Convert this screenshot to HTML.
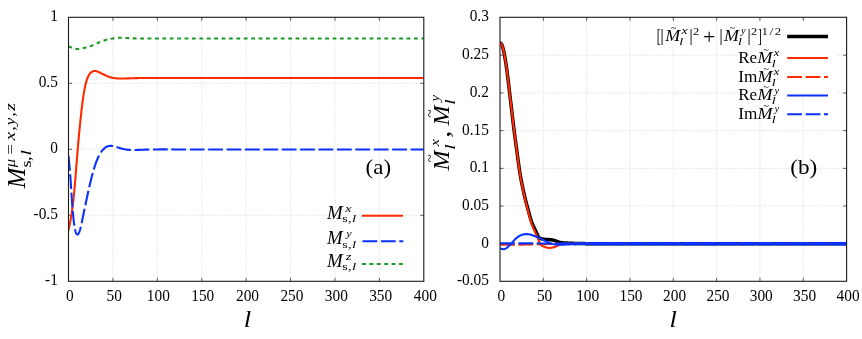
<!DOCTYPE html>
<html><head><meta charset="utf-8"><title>plot</title>
<style>html,body{margin:0;padding:0;background:#fff;}svg{display:block;will-change:transform;}text{font-family:"Liberation Serif",serif;fill:#000;}.it{font-style:italic;}</style></head><body>
<svg width="862" height="339" viewBox="0 0 862 339">
<rect x="0" y="0" width="862" height="339" fill="#ffffff"/>
<line x1="112.91" y1="17.30" x2="112.91" y2="281.30" stroke="#d4d4d4" stroke-width="0.8" stroke-dasharray="1 1.2"/>
<line x1="157.32" y1="17.30" x2="157.32" y2="281.30" stroke="#d4d4d4" stroke-width="0.8" stroke-dasharray="1 1.2"/>
<line x1="201.74" y1="17.30" x2="201.74" y2="281.30" stroke="#d4d4d4" stroke-width="0.8" stroke-dasharray="1 1.2"/>
<line x1="246.15" y1="17.30" x2="246.15" y2="281.30" stroke="#d4d4d4" stroke-width="0.8" stroke-dasharray="1 1.2"/>
<line x1="290.56" y1="17.30" x2="290.56" y2="281.30" stroke="#d4d4d4" stroke-width="0.8" stroke-dasharray="1 1.2"/>
<line x1="334.98" y1="17.30" x2="334.98" y2="281.30" stroke="#d4d4d4" stroke-width="0.8" stroke-dasharray="1 1.2"/>
<line x1="379.39" y1="17.30" x2="379.39" y2="281.30" stroke="#d4d4d4" stroke-width="0.8" stroke-dasharray="1 1.2"/>
<line x1="68.50" y1="215.30" x2="423.80" y2="215.30" stroke="#d4d4d4" stroke-width="0.8" stroke-dasharray="1 1.2"/>
<line x1="68.50" y1="149.30" x2="423.80" y2="149.30" stroke="#d4d4d4" stroke-width="0.8" stroke-dasharray="1 1.2"/>
<line x1="68.50" y1="83.30" x2="423.80" y2="83.30" stroke="#d4d4d4" stroke-width="0.8" stroke-dasharray="1 1.2"/>
<line x1="112.91" y1="281.30" x2="112.91" y2="277.80" stroke="#333" stroke-width="0.8"/>
<line x1="112.91" y1="17.30" x2="112.91" y2="20.80" stroke="#333" stroke-width="0.8"/>
<line x1="157.32" y1="281.30" x2="157.32" y2="277.80" stroke="#333" stroke-width="0.8"/>
<line x1="157.32" y1="17.30" x2="157.32" y2="20.80" stroke="#333" stroke-width="0.8"/>
<line x1="201.74" y1="281.30" x2="201.74" y2="277.80" stroke="#333" stroke-width="0.8"/>
<line x1="201.74" y1="17.30" x2="201.74" y2="20.80" stroke="#333" stroke-width="0.8"/>
<line x1="246.15" y1="281.30" x2="246.15" y2="277.80" stroke="#333" stroke-width="0.8"/>
<line x1="246.15" y1="17.30" x2="246.15" y2="20.80" stroke="#333" stroke-width="0.8"/>
<line x1="290.56" y1="281.30" x2="290.56" y2="277.80" stroke="#333" stroke-width="0.8"/>
<line x1="290.56" y1="17.30" x2="290.56" y2="20.80" stroke="#333" stroke-width="0.8"/>
<line x1="334.98" y1="281.30" x2="334.98" y2="277.80" stroke="#333" stroke-width="0.8"/>
<line x1="334.98" y1="17.30" x2="334.98" y2="20.80" stroke="#333" stroke-width="0.8"/>
<line x1="379.39" y1="281.30" x2="379.39" y2="277.80" stroke="#333" stroke-width="0.8"/>
<line x1="379.39" y1="17.30" x2="379.39" y2="20.80" stroke="#333" stroke-width="0.8"/>
<line x1="68.50" y1="215.30" x2="72.00" y2="215.30" stroke="#333" stroke-width="0.8"/>
<line x1="423.80" y1="215.30" x2="420.30" y2="215.30" stroke="#333" stroke-width="0.8"/>
<line x1="68.50" y1="149.30" x2="72.00" y2="149.30" stroke="#333" stroke-width="0.8"/>
<line x1="423.80" y1="149.30" x2="420.30" y2="149.30" stroke="#333" stroke-width="0.8"/>
<line x1="68.50" y1="83.30" x2="72.00" y2="83.30" stroke="#333" stroke-width="0.8"/>
<line x1="423.80" y1="83.30" x2="420.30" y2="83.30" stroke="#333" stroke-width="0.8"/>
<clipPath id="cl"><rect x="68.50" y="17.30" width="355.30" height="264.00"/></clipPath>
<g clip-path="url(#cl)" fill="none" stroke-linejoin="round">
<path d="M68.50 230.35 L68.77 229.10 L69.03 227.84 L69.30 226.57 L69.57 225.27 L69.84 223.94 L70.10 222.58 L70.37 221.17 L70.64 219.70 L70.90 218.18 L71.17 216.58 L71.44 214.91 L71.71 213.16 L71.97 211.32 L72.24 209.37 L72.51 207.33 L72.77 205.19 L73.04 202.94 L73.31 200.58 L73.58 198.11 L73.84 195.53 L74.11 192.84 L74.38 190.02 L74.64 187.09 L74.91 184.03 L75.18 180.87 L75.45 177.62 L75.71 174.29 L75.98 170.92 L76.25 167.53 L76.51 164.12 L76.78 160.73 L77.05 157.38 L77.32 154.07 L77.58 150.84 L77.85 147.69 L78.12 144.61 L78.38 141.60 L78.65 138.66 L78.92 135.78 L79.19 132.96 L79.45 130.19 L79.72 127.48 L79.99 124.81 L80.25 122.19 L80.52 119.62 L80.79 117.10 L81.06 114.64 L81.32 112.23 L81.59 109.89 L81.86 107.62 L82.12 105.41 L82.39 103.29 L82.66 101.24 L82.93 99.28 L83.19 97.40 L83.46 95.61 L83.73 93.90 L83.99 92.28 L84.26 90.73 L84.53 89.27 L84.80 87.89 L85.06 86.59 L85.33 85.36 L85.60 84.21 L85.86 83.13 L86.13 82.13 L86.40 81.19 L86.67 80.32 L86.93 79.51 L87.20 78.76 L87.47 78.07 L87.73 77.42 L88.00 76.83 L88.27 76.28 L88.54 75.77 L88.80 75.29 L89.07 74.85 L89.34 74.45 L89.60 74.07 L89.87 73.72 L90.14 73.40 L90.41 73.11 L90.67 72.84 L90.94 72.59 L91.21 72.37 L91.47 72.17 L91.74 71.98 L92.01 71.81 L92.28 71.66 L92.54 71.53 L92.81 71.41 L93.08 71.31 L93.34 71.23 L93.61 71.16 L93.88 71.10 L94.15 71.06 L94.41 71.04 L94.68 71.02 L94.95 71.03 L95.21 71.04 L95.48 71.07 L95.75 71.11 L96.02 71.15 L96.28 71.21 L96.55 71.28 L96.82 71.36 L97.08 71.44 L97.35 71.53 L97.62 71.63 L97.89 71.74 L98.15 71.85 L98.42 71.96 L98.69 72.07 L98.95 72.19 L99.22 72.31 L99.49 72.44 L99.76 72.56 L100.02 72.69 L100.29 72.82 L100.56 72.95 L100.82 73.08 L101.09 73.21 L101.36 73.35 L101.63 73.48 L101.89 73.61 L102.16 73.75 L102.43 73.88 L102.69 74.02 L102.96 74.15 L103.23 74.28 L103.50 74.42 L103.76 74.55 L104.03 74.68 L104.30 74.81 L104.56 74.93 L104.83 75.06 L105.10 75.18 L105.37 75.30 L105.63 75.42 L105.90 75.54 L106.17 75.66 L106.43 75.77 L106.70 75.89 L106.97 76.00 L107.24 76.11 L107.50 76.21 L107.77 76.32 L108.04 76.42 L108.30 76.52 L108.57 76.62 L108.84 76.72 L109.11 76.81 L109.37 76.90 L109.64 76.99 L109.91 77.08 L110.17 77.16 L110.44 77.24 L110.71 77.32 L110.98 77.40 L111.24 77.47 L111.51 77.54 L111.78 77.61 L112.04 77.68 L112.31 77.74 L112.58 77.80 L112.85 77.86 L113.11 77.91 L113.38 77.96 L113.65 78.01 L113.91 78.06 L114.18 78.10 L114.45 78.14 L114.72 78.18 L114.98 78.22 L115.25 78.25 L115.52 78.29 L115.78 78.32 L116.05 78.34 L116.32 78.37 L116.59 78.39 L116.85 78.42 L117.12 78.44 L117.39 78.46 L117.65 78.47 L117.92 78.49 L118.19 78.50 L118.46 78.51 L118.72 78.52 L118.99 78.53 L119.26 78.54 L119.52 78.55 L119.79 78.55 L120.06 78.56 L120.33 78.56 L120.59 78.57 L120.86 78.57 L121.13 78.57 L121.39 78.57 L121.66 78.56 L121.93 78.56 L122.20 78.56 L122.46 78.56 L122.73 78.55 L123.00 78.55 L123.26 78.54 L123.53 78.53 L123.80 78.53 L124.07 78.52 L124.33 78.51 L124.60 78.50 L124.87 78.50 L125.13 78.49 L125.40 78.48 L125.67 78.47 L125.94 78.46 L126.20 78.45 L126.47 78.44 L126.74 78.43 L127.00 78.42 L127.27 78.41 L127.54 78.40 L127.81 78.39 L128.07 78.38 L128.34 78.37 L128.61 78.36 L128.87 78.35 L129.14 78.34 L129.41 78.33 L129.68 78.33 L129.94 78.32 L130.21 78.31 L130.48 78.30 L130.74 78.29 L131.01 78.28 L131.28 78.27 L131.55 78.26 L131.81 78.25 L132.08 78.25 L132.35 78.24 L132.61 78.23 L132.88 78.22 L133.15 78.21 L133.42 78.20 L133.68 78.20 L133.95 78.19 L134.22 78.18 L134.48 78.17 L134.75 78.16 L135.02 78.15 L135.29 78.15 L135.55 78.14 L135.82 78.13 L136.09 78.12 L136.35 78.12 L136.62 78.11 L136.89 78.10 L137.16 78.09 L137.42 78.09 L137.69 78.08 L137.96 78.07 L138.22 78.07 L138.49 78.06 L138.76 78.05 L139.03 78.05 L139.29 78.04 L139.56 78.03 L139.83 78.03 L140.09 78.02 L140.36 78.02 L140.63 78.01 L140.90 78.00 L141.16 78.00 L141.43 77.99 L141.70 77.99 L141.96 77.98 L142.23 77.98 L142.50 77.98 L142.77 77.97 L143.03 77.97 L143.30 77.96 L143.57 77.96 L143.83 77.96 L144.10 77.95 L144.37 77.95 L144.64 77.95 L144.90 77.94 L145.17 77.94 L145.44 77.94 L145.70 77.94 L145.97 77.94 L146.24 77.93 L146.51 77.93 L146.77 77.93 L147.04 77.93 L147.31 77.93 L147.57 77.93 L147.84 77.93 L148.11 77.93 L148.38 77.93 L148.64 77.93 L148.91 77.93 L149.18 77.93 L149.44 77.93 L149.71 77.93 L149.98 77.93 L150.25 77.93 L150.51 77.93 L150.78 77.93 L151.05 77.93 L151.31 77.93 L151.58 77.93 L151.85 77.93 L152.12 77.93 L152.38 77.93 L152.65 77.93 L152.92 77.93 L153.18 77.94 L153.45 77.94 L153.72 77.94 L153.99 77.94 L154.25 77.94 L154.52 77.94 L154.79 77.94 L155.05 77.94 L155.32 77.95 L155.59 77.95 L155.86 77.95 L156.12 77.95 L156.39 77.95 L156.66 77.95 L156.92 77.95 L157.19 77.95 L157.46 77.95 L157.73 77.96 L157.99 77.96 L158.26 77.96 L158.53 77.96 L158.79 77.96 L159.06 77.96 L159.33 77.96 L159.60 77.96 L159.86 77.96 L160.13 77.96 L160.40 77.96 L160.66 77.96 L160.93 77.96 L161.20 77.96 L161.47 77.96 L161.73 77.97 L162.00 77.97 L162.27 77.97 L162.53 77.97 L162.80 77.97 L163.07 77.97 L163.34 77.97 L163.60 77.97 L163.87 77.97 L164.14 77.97 L164.40 77.97 L164.67 77.97 L164.94 77.97 L165.21 77.97 L165.47 77.97 L165.74 77.97 L166.01 77.97 L166.27 77.97 L166.54 77.97 L166.81 77.97 L167.08 77.97 L167.34 77.97 L167.61 77.97 L167.88 77.97 L168.14 77.97 L168.41 77.96 L168.68 77.96 L168.95 77.96 L169.21 77.96 L169.48 77.96 L169.75 77.96 L170.01 77.96 L170.28 77.96 L170.55 77.96 L170.82 77.96 L171.08 77.96 L171.35 77.96 L171.62 77.96 L171.88 77.96 L172.15 77.96 L172.42 77.96 L172.69 77.96 L172.95 77.96 L173.22 77.96 L173.49 77.96 L173.75 77.96 L174.02 77.96 L174.29 77.96 L174.56 77.96 L174.82 77.95 L175.09 77.95 L423.80 77.95" stroke="#ff2a00" stroke-width="2.1"/>
<path d="M68.50 155.90 L68.77 158.57 L69.03 161.28 L69.30 164.08 L69.57 167.01 L69.84 170.11 L70.10 173.42 L70.37 176.98 L70.64 180.79 L70.90 184.78 L71.17 188.87 L71.44 192.98 L71.71 197.04 L71.97 200.96 L72.24 204.68 L72.51 208.15 L72.77 211.40 L73.04 214.41 L73.31 217.18 L73.58 219.71 L73.84 222.01 L74.11 224.07 L74.38 225.91 L74.64 227.53 L74.91 228.96 L75.18 230.19 L75.45 231.25 L75.71 232.14 L75.98 232.87 L76.25 233.46 L76.51 233.90 L76.78 234.22 L77.05 234.41 L77.32 234.49 L77.58 234.46 L77.85 234.34 L78.12 234.12 L78.38 233.80 L78.65 233.40 L78.92 232.90 L79.19 232.31 L79.45 231.64 L79.72 230.87 L79.99 230.02 L80.25 229.09 L80.52 228.07 L80.79 226.99 L81.06 225.84 L81.32 224.65 L81.59 223.41 L81.86 222.13 L82.12 220.84 L82.39 219.52 L82.66 218.20 L82.93 216.89 L83.19 215.57 L83.46 214.26 L83.73 212.96 L83.99 211.66 L84.26 210.36 L84.53 209.07 L84.80 207.78 L85.06 206.50 L85.33 205.22 L85.60 203.94 L85.86 202.67 L86.13 201.41 L86.40 200.15 L86.67 198.90 L86.93 197.65 L87.20 196.41 L87.47 195.17 L87.73 193.94 L88.00 192.72 L88.27 191.51 L88.54 190.31 L88.80 189.12 L89.07 187.94 L89.34 186.77 L89.60 185.61 L89.87 184.47 L90.14 183.34 L90.41 182.22 L90.67 181.12 L90.94 180.03 L91.21 178.96 L91.47 177.90 L91.74 176.86 L92.01 175.83 L92.28 174.83 L92.54 173.84 L92.81 172.86 L93.08 171.91 L93.34 170.97 L93.61 170.05 L93.88 169.15 L94.15 168.27 L94.41 167.41 L94.68 166.57 L94.95 165.74 L95.21 164.94 L95.48 164.16 L95.75 163.40 L96.02 162.66 L96.28 161.94 L96.55 161.24 L96.82 160.56 L97.08 159.89 L97.35 159.25 L97.62 158.63 L97.89 158.02 L98.15 157.43 L98.42 156.86 L98.69 156.31 L98.95 155.78 L99.22 155.26 L99.49 154.76 L99.76 154.28 L100.02 153.82 L100.29 153.37 L100.56 152.93 L100.82 152.52 L101.09 152.11 L101.36 151.73 L101.63 151.36 L101.89 151.00 L102.16 150.66 L102.43 150.33 L102.69 150.02 L102.96 149.71 L103.23 149.43 L103.50 149.15 L103.76 148.89 L104.03 148.64 L104.30 148.40 L104.56 148.18 L104.83 147.96 L105.10 147.76 L105.37 147.57 L105.63 147.39 L105.90 147.22 L106.17 147.06 L106.43 146.91 L106.70 146.77 L106.97 146.65 L107.24 146.53 L107.50 146.42 L107.77 146.32 L108.04 146.24 L108.30 146.16 L108.57 146.09 L108.84 146.03 L109.11 145.98 L109.37 145.93 L109.64 145.90 L109.91 145.87 L110.17 145.86 L110.44 145.85 L110.71 145.84 L110.98 145.85 L111.24 145.86 L111.51 145.88 L111.78 145.90 L112.04 145.94 L112.31 145.97 L112.58 146.01 L112.85 146.06 L113.11 146.11 L113.38 146.17 L113.65 146.23 L113.91 146.29 L114.18 146.36 L114.45 146.43 L114.72 146.51 L114.98 146.58 L115.25 146.66 L115.52 146.74 L115.78 146.82 L116.05 146.91 L116.32 146.99 L116.59 147.07 L116.85 147.16 L117.12 147.25 L117.39 147.33 L117.65 147.42 L117.92 147.50 L118.19 147.58 L118.46 147.67 L118.72 147.75 L118.99 147.83 L119.26 147.91 L119.52 147.99 L119.79 148.07 L120.06 148.14 L120.33 148.22 L120.59 148.29 L120.86 148.37 L121.13 148.44 L121.39 148.51 L121.66 148.58 L121.93 148.65 L122.20 148.72 L122.46 148.78 L122.73 148.85 L123.00 148.91 L123.26 148.97 L123.53 149.03 L123.80 149.08 L124.07 149.14 L124.33 149.19 L124.60 149.24 L124.87 149.29 L125.13 149.34 L125.40 149.39 L125.67 149.43 L125.94 149.48 L126.20 149.52 L126.47 149.56 L126.74 149.60 L127.00 149.63 L127.27 149.67 L127.54 149.70 L127.81 149.73 L128.07 149.76 L128.34 149.79 L128.61 149.81 L128.87 149.84 L129.14 149.86 L129.41 149.88 L129.68 149.90 L129.94 149.92 L130.21 149.94 L130.48 149.95 L130.74 149.96 L131.01 149.97 L131.28 149.98 L131.55 149.99 L131.81 150.00 L132.08 150.01 L132.35 150.01 L132.61 150.01 L132.88 150.02 L133.15 150.02 L133.42 150.02 L133.68 150.01 L133.95 150.01 L134.22 150.01 L134.48 150.00 L134.75 150.00 L135.02 149.99 L135.29 149.99 L135.55 149.98 L135.82 149.97 L136.09 149.96 L136.35 149.95 L136.62 149.95 L136.89 149.94 L137.16 149.93 L137.42 149.91 L137.69 149.90 L137.96 149.89 L138.22 149.88 L138.49 149.87 L138.76 149.86 L139.03 149.85 L139.29 149.84 L139.56 149.83 L139.83 149.82 L140.09 149.81 L140.36 149.80 L140.63 149.79 L140.90 149.78 L141.16 149.77 L141.43 149.76 L141.70 149.75 L141.96 149.74 L142.23 149.73 L142.50 149.72 L142.77 149.71 L143.03 149.70 L143.30 149.70 L143.57 149.69 L143.83 149.68 L144.10 149.67 L144.37 149.66 L144.64 149.66 L144.90 149.65 L145.17 149.64 L145.44 149.64 L145.70 149.63 L145.97 149.62 L146.24 149.61 L146.51 149.61 L146.77 149.60 L147.04 149.60 L147.31 149.59 L147.57 149.58 L147.84 149.58 L148.11 149.57 L148.38 149.57 L148.64 149.56 L148.91 149.55 L149.18 149.55 L149.44 149.54 L149.71 149.54 L149.98 149.53 L150.25 149.53 L150.51 149.52 L150.78 149.52 L151.05 149.51 L151.31 149.51 L151.58 149.50 L151.85 149.50 L152.12 149.50 L152.38 149.49 L152.65 149.49 L152.92 149.48 L153.18 149.48 L153.45 149.48 L153.72 149.47 L153.99 149.47 L154.25 149.46 L154.52 149.46 L154.79 149.46 L155.05 149.45 L155.32 149.45 L155.59 149.45 L155.86 149.45 L156.12 149.44 L156.39 149.44 L156.66 149.44 L156.92 149.44 L157.19 149.43 L157.46 149.43 L157.73 149.43 L157.99 149.43 L158.26 149.42 L158.53 149.42 L158.79 149.42 L159.06 149.42 L159.33 149.42 L159.60 149.42 L159.86 149.41 L160.13 149.41 L160.40 149.41 L160.66 149.41 L160.93 149.41 L161.20 149.41 L161.47 149.41 L161.73 149.41 L162.00 149.41 L162.27 149.41 L162.53 149.41 L162.80 149.40 L163.07 149.40 L163.34 149.40 L163.60 149.40 L163.87 149.40 L164.14 149.40 L164.40 149.40 L164.67 149.40 L164.94 149.40 L165.21 149.40 L165.47 149.40 L165.74 149.40 L166.01 149.40 L166.27 149.40 L166.54 149.40 L166.81 149.40 L167.08 149.41 L167.34 149.41 L167.61 149.41 L167.88 149.41 L168.14 149.41 L168.41 149.41 L168.68 149.41 L168.95 149.41 L169.21 149.41 L169.48 149.41 L169.75 149.41 L170.01 149.41 L170.28 149.41 L170.55 149.41 L170.82 149.41 L171.08 149.42 L171.35 149.42 L171.62 149.42 L171.88 149.42 L172.15 149.42 L172.42 149.42 L172.69 149.42 L172.95 149.42 L173.22 149.42 L173.49 149.43 L173.75 149.43 L174.02 149.43 L174.29 149.43 L174.56 149.43 L174.82 149.43 L175.09 149.43 L423.80 149.43" stroke="#0a32ff" stroke-width="2.1" stroke-dasharray="14.8 3.6"/>
<path d="M68.50 46.21 L68.77 46.34 L69.03 46.47 L69.30 46.61 L69.57 46.74 L69.84 46.87 L70.10 47.00 L70.37 47.12 L70.64 47.25 L70.90 47.37 L71.17 47.49 L71.44 47.61 L71.71 47.72 L71.97 47.83 L72.24 47.93 L72.51 48.03 L72.77 48.13 L73.04 48.22 L73.31 48.31 L73.58 48.39 L73.84 48.47 L74.11 48.54 L74.38 48.60 L74.64 48.66 L74.91 48.72 L75.18 48.77 L75.45 48.81 L75.71 48.85 L75.98 48.89 L76.25 48.91 L76.51 48.94 L76.78 48.96 L77.05 48.97 L77.32 48.98 L77.58 48.98 L77.85 48.98 L78.12 48.97 L78.38 48.96 L78.65 48.94 L78.92 48.92 L79.19 48.89 L79.45 48.86 L79.72 48.83 L79.99 48.79 L80.25 48.75 L80.52 48.70 L80.79 48.66 L81.06 48.61 L81.32 48.56 L81.59 48.50 L81.86 48.45 L82.12 48.39 L82.39 48.33 L82.66 48.27 L82.93 48.21 L83.19 48.15 L83.46 48.09 L83.73 48.03 L83.99 47.96 L84.26 47.90 L84.53 47.84 L84.80 47.78 L85.06 47.71 L85.33 47.65 L85.60 47.58 L85.86 47.52 L86.13 47.45 L86.40 47.38 L86.67 47.31 L86.93 47.25 L87.20 47.17 L87.47 47.10 L87.73 47.03 L88.00 46.96 L88.27 46.88 L88.54 46.80 L88.80 46.72 L89.07 46.64 L89.34 46.56 L89.60 46.47 L89.87 46.39 L90.14 46.30 L90.41 46.21 L90.67 46.12 L90.94 46.02 L91.21 45.92 L91.47 45.82 L91.74 45.72 L92.01 45.62 L92.28 45.51 L92.54 45.40 L92.81 45.29 L93.08 45.18 L93.34 45.07 L93.61 44.95 L93.88 44.83 L94.15 44.72 L94.41 44.60 L94.68 44.48 L94.95 44.36 L95.21 44.24 L95.48 44.11 L95.75 43.99 L96.02 43.87 L96.28 43.75 L96.55 43.62 L96.82 43.50 L97.08 43.38 L97.35 43.25 L97.62 43.13 L97.89 43.01 L98.15 42.88 L98.42 42.76 L98.69 42.64 L98.95 42.52 L99.22 42.40 L99.49 42.28 L99.76 42.17 L100.02 42.05 L100.29 41.93 L100.56 41.82 L100.82 41.71 L101.09 41.59 L101.36 41.48 L101.63 41.37 L101.89 41.27 L102.16 41.16 L102.43 41.06 L102.69 40.96 L102.96 40.85 L103.23 40.76 L103.50 40.66 L103.76 40.57 L104.03 40.47 L104.30 40.38 L104.56 40.30 L104.83 40.21 L105.10 40.13 L105.37 40.05 L105.63 39.97 L105.90 39.89 L106.17 39.82 L106.43 39.75 L106.70 39.68 L106.97 39.61 L107.24 39.54 L107.50 39.48 L107.77 39.42 L108.04 39.36 L108.30 39.30 L108.57 39.24 L108.84 39.18 L109.11 39.13 L109.37 39.07 L109.64 39.02 L109.91 38.97 L110.17 38.92 L110.44 38.87 L110.71 38.82 L110.98 38.77 L111.24 38.73 L111.51 38.68 L111.78 38.64 L112.04 38.59 L112.31 38.55 L112.58 38.51 L112.85 38.46 L113.11 38.42 L113.38 38.38 L113.65 38.34 L113.91 38.30 L114.18 38.26 L114.45 38.22 L114.72 38.19 L114.98 38.15 L115.25 38.12 L115.52 38.08 L115.78 38.05 L116.05 38.02 L116.32 37.99 L116.59 37.96 L116.85 37.93 L117.12 37.91 L117.39 37.89 L117.65 37.86 L117.92 37.84 L118.19 37.82 L118.46 37.81 L118.72 37.79 L118.99 37.78 L119.26 37.77 L119.52 37.76 L119.79 37.75 L120.06 37.74 L120.33 37.74 L120.59 37.74 L120.86 37.74 L121.13 37.74 L121.39 37.74 L121.66 37.74 L121.93 37.75 L122.20 37.76 L122.46 37.76 L122.73 37.77 L123.00 37.78 L123.26 37.79 L123.53 37.81 L123.80 37.82 L124.07 37.83 L124.33 37.85 L124.60 37.86 L124.87 37.88 L125.13 37.90 L125.40 37.91 L125.67 37.93 L125.94 37.95 L126.20 37.96 L126.47 37.98 L126.74 38.00 L127.00 38.02 L127.27 38.03 L127.54 38.05 L127.81 38.07 L128.07 38.08 L128.34 38.10 L128.61 38.12 L128.87 38.13 L129.14 38.15 L129.41 38.17 L129.68 38.18 L129.94 38.20 L130.21 38.21 L130.48 38.23 L130.74 38.24 L131.01 38.26 L131.28 38.27 L131.55 38.29 L131.81 38.30 L132.08 38.31 L132.35 38.32 L132.61 38.34 L132.88 38.35 L133.15 38.36 L133.42 38.37 L133.68 38.38 L133.95 38.39 L134.22 38.40 L134.48 38.41 L134.75 38.42 L135.02 38.43 L135.29 38.44 L135.55 38.45 L135.82 38.46 L136.09 38.46 L136.35 38.47 L136.62 38.48 L136.89 38.48 L137.16 38.49 L137.42 38.49 L137.69 38.50 L137.96 38.50 L138.22 38.51 L138.49 38.51 L138.76 38.52 L139.03 38.52 L139.29 38.52 L139.56 38.53 L139.83 38.53 L140.09 38.53 L140.36 38.53 L140.63 38.54 L140.90 38.54 L141.16 38.54 L141.43 38.54 L141.70 38.54 L141.96 38.54 L142.23 38.55 L142.50 38.55 L142.77 38.55 L143.03 38.55 L143.30 38.55 L143.57 38.55 L143.83 38.55 L144.10 38.55 L144.37 38.55 L144.64 38.55 L144.90 38.55 L145.17 38.55 L145.44 38.56 L145.70 38.56 L145.97 38.56 L146.24 38.56 L146.51 38.56 L146.77 38.56 L147.04 38.56 L147.31 38.56 L147.57 38.56 L147.84 38.56 L148.11 38.56 L148.38 38.56 L148.64 38.56 L148.91 38.56 L149.18 38.56 L149.44 38.56 L149.71 38.56 L149.98 38.56 L150.25 38.56 L150.51 38.56 L150.78 38.56 L151.05 38.56 L151.31 38.56 L151.58 38.56 L151.85 38.56 L152.12 38.56 L152.38 38.56 L152.65 38.56 L152.92 38.56 L153.18 38.56 L153.45 38.56 L153.72 38.56 L153.99 38.56 L154.25 38.55 L154.52 38.55 L154.79 38.55 L155.05 38.55 L155.32 38.55 L155.59 38.55 L155.86 38.55 L156.12 38.55 L156.39 38.55 L156.66 38.55 L156.92 38.55 L157.19 38.55 L157.46 38.55 L157.73 38.55 L157.99 38.55 L158.26 38.55 L158.53 38.55 L158.79 38.55 L159.06 38.55 L159.33 38.55 L159.60 38.55 L159.86 38.55 L160.13 38.55 L160.40 38.55 L160.66 38.55 L160.93 38.55 L161.20 38.55 L161.47 38.55 L161.73 38.55 L162.00 38.55 L162.27 38.55 L162.53 38.55 L162.80 38.55 L163.07 38.55 L163.34 38.55 L163.60 38.55 L163.87 38.55 L164.14 38.55 L164.40 38.55 L164.67 38.55 L164.94 38.55 L165.21 38.55 L165.47 38.55 L165.74 38.55 L166.01 38.55 L166.27 38.55 L166.54 38.55 L166.81 38.55 L167.08 38.55 L167.34 38.55 L167.61 38.55 L167.88 38.55 L168.14 38.55 L168.41 38.55 L168.68 38.55 L168.95 38.55 L169.21 38.55 L169.48 38.55 L169.75 38.55 L170.01 38.55 L170.28 38.55 L170.55 38.55 L170.82 38.55 L171.08 38.55 L171.35 38.55 L171.62 38.55 L171.88 38.55 L172.15 38.55 L172.42 38.55 L172.69 38.55 L172.95 38.55 L173.22 38.55 L173.49 38.55 L173.75 38.55 L174.02 38.55 L174.29 38.55 L174.56 38.55 L174.82 38.55 L175.09 38.55 L423.80 38.55" stroke="#169a22" stroke-width="2.1" stroke-dasharray="3.8 3.6"/>
</g>
<rect x="68.50" y="17.30" width="355.30" height="264.00" fill="none" stroke="#1a1a1a" stroke-width="1.1"/>
<text transform="translate(66.06 301.10) scale(0.955 1)" font-size="16.10">0</text>
<text transform="translate(106.47 301.10) scale(0.955 1)" font-size="16.10">50</text>
<text transform="translate(146.81 301.10) scale(0.955 1)" font-size="16.10">100</text>
<text transform="translate(191.22 301.10) scale(0.955 1)" font-size="16.10">150</text>
<text transform="translate(235.97 301.10) scale(0.955 1)" font-size="16.10">200</text>
<text transform="translate(280.39 301.10) scale(0.955 1)" font-size="16.10">250</text>
<text transform="translate(324.77 301.10) scale(0.955 1)" font-size="16.10">300</text>
<text transform="translate(369.18 301.10) scale(0.955 1)" font-size="16.10">350</text>
<text transform="translate(413.81 301.10) scale(0.955 1)" font-size="16.10">400</text>
<text transform="translate(57.90 285.20) scale(0.955 1)" font-size="16.10" text-anchor="end">-1</text>
<text transform="translate(57.90 219.20) scale(0.955 1)" font-size="16.10" text-anchor="end">-0.5</text>
<text transform="translate(57.90 153.20) scale(0.955 1)" font-size="16.10" text-anchor="end">0</text>
<text transform="translate(57.90 87.20) scale(0.955 1)" font-size="16.10" text-anchor="end">0.5</text>
<text transform="translate(57.90 21.20) scale(0.955 1)" font-size="16.10" text-anchor="end">1</text>
<text transform="translate(243.68 326.60) scale(1.200 1)" font-size="22.20" class="it">l</text>
<text transform="translate(365.59 174.40) scale(1.075 1)" font-size="21.40">(a)</text>
<g transform="translate(25.1 188.6) rotate(-90)">
<text transform="translate(0.29 0.00) scale(0.996 1)" font-size="24.70" class="it">M</text>
<text transform="translate(21.15 5.90) scale(1.218 1)" font-size="15.00">s</text>
<text transform="translate(27.71 5.90) scale(1.209 1)" font-size="15.00">,</text>
<text transform="translate(33.04 5.90) scale(1.300 1)" font-size="15.00" class="it">l</text>
<text transform="translate(21.42 -10.60) scale(1.107 1)" font-size="15.00" class="it">μ</text>
<text transform="translate(33.85 -10.60) scale(1.275 1)" font-size="15.00">=</text>
<text transform="translate(48.06 -10.60) scale(1.300 1)" font-size="15.00" class="it">x</text>
<text transform="translate(57.91 -10.60) scale(1.209 1)" font-size="15.00">,</text>
<text transform="translate(63.32 -10.60) scale(1.137 1)" font-size="15.00" class="it">y</text>
<text transform="translate(71.91 -10.60) scale(1.209 1)" font-size="15.00">,</text>
<text transform="translate(77.89 -10.60) scale(1.300 1)" font-size="15.00" class="it">z</text>
</g>
<text transform="translate(327.12 218.75) scale(0.998 1)" font-size="18.90" class="it">M</text>
<text transform="translate(345.37 211.55) scale(1.251 1)" font-size="11.40" class="it">x</text>
<text transform="translate(342.22 222.15) scale(1.237 1)" font-size="11.40">s</text>
<text transform="translate(347.94 222.15) scale(1.296 1)" font-size="11.40">,</text>
<text transform="translate(352.01 222.15) scale(1.300 1)" font-size="11.40" class="it">l</text>
<text transform="translate(327.12 244.20) scale(0.998 1)" font-size="18.90" class="it">M</text>
<text transform="translate(346.21 237.00) scale(1.064 1)" font-size="11.40" class="it">y</text>
<text transform="translate(342.22 247.60) scale(1.237 1)" font-size="11.40">s</text>
<text transform="translate(347.94 247.60) scale(1.296 1)" font-size="11.40">,</text>
<text transform="translate(352.01 247.60) scale(1.300 1)" font-size="11.40" class="it">l</text>
<text transform="translate(327.12 266.90) scale(0.998 1)" font-size="18.90" class="it">M</text>
<text transform="translate(345.70 259.70) scale(1.300 1)" font-size="11.40" class="it">z</text>
<text transform="translate(342.22 270.30) scale(1.237 1)" font-size="11.40">s</text>
<text transform="translate(347.94 270.30) scale(1.296 1)" font-size="11.40">,</text>
<text transform="translate(352.01 270.30) scale(1.300 1)" font-size="11.40" class="it">l</text>
<line x1="362" y1="215.75" x2="403" y2="215.75" stroke="#ff2a00" stroke-width="2.0"/>
<line x1="362.5" y1="241.20" x2="403.3" y2="241.20" stroke="#0a32ff" stroke-width="2.0" stroke-dasharray="14.8 3.6"/>
<line x1="362" y1="263.90" x2="403" y2="263.90" stroke="#169a22" stroke-width="2.0" stroke-dasharray="3.8 3.6"/>
<line x1="543.33" y1="17.30" x2="543.33" y2="281.30" stroke="#d4d4d4" stroke-width="0.8" stroke-dasharray="1 1.2"/>
<line x1="586.65" y1="17.30" x2="586.65" y2="281.30" stroke="#d4d4d4" stroke-width="0.8" stroke-dasharray="1 1.2"/>
<line x1="629.98" y1="17.30" x2="629.98" y2="281.30" stroke="#d4d4d4" stroke-width="0.8" stroke-dasharray="1 1.2"/>
<line x1="673.30" y1="17.30" x2="673.30" y2="281.30" stroke="#d4d4d4" stroke-width="0.8" stroke-dasharray="1 1.2"/>
<line x1="716.62" y1="17.30" x2="716.62" y2="281.30" stroke="#d4d4d4" stroke-width="0.8" stroke-dasharray="1 1.2"/>
<line x1="759.95" y1="17.30" x2="759.95" y2="281.30" stroke="#d4d4d4" stroke-width="0.8" stroke-dasharray="1 1.2"/>
<line x1="803.28" y1="17.30" x2="803.28" y2="281.30" stroke="#d4d4d4" stroke-width="0.8" stroke-dasharray="1 1.2"/>
<line x1="500.00" y1="243.79" x2="846.60" y2="243.79" stroke="#d4d4d4" stroke-width="0.8" stroke-dasharray="1 1.2"/>
<line x1="500.00" y1="206.07" x2="846.60" y2="206.07" stroke="#d4d4d4" stroke-width="0.8" stroke-dasharray="1 1.2"/>
<line x1="500.00" y1="168.36" x2="846.60" y2="168.36" stroke="#d4d4d4" stroke-width="0.8" stroke-dasharray="1 1.2"/>
<line x1="500.00" y1="130.64" x2="846.60" y2="130.64" stroke="#d4d4d4" stroke-width="0.8" stroke-dasharray="1 1.2"/>
<line x1="500.00" y1="92.93" x2="846.60" y2="92.93" stroke="#d4d4d4" stroke-width="0.8" stroke-dasharray="1 1.2"/>
<line x1="500.00" y1="55.21" x2="846.60" y2="55.21" stroke="#d4d4d4" stroke-width="0.8" stroke-dasharray="1 1.2"/>
<line x1="543.33" y1="281.30" x2="543.33" y2="277.80" stroke="#333" stroke-width="0.8"/>
<line x1="543.33" y1="17.30" x2="543.33" y2="20.80" stroke="#333" stroke-width="0.8"/>
<line x1="586.65" y1="281.30" x2="586.65" y2="277.80" stroke="#333" stroke-width="0.8"/>
<line x1="586.65" y1="17.30" x2="586.65" y2="20.80" stroke="#333" stroke-width="0.8"/>
<line x1="629.98" y1="281.30" x2="629.98" y2="277.80" stroke="#333" stroke-width="0.8"/>
<line x1="629.98" y1="17.30" x2="629.98" y2="20.80" stroke="#333" stroke-width="0.8"/>
<line x1="673.30" y1="281.30" x2="673.30" y2="277.80" stroke="#333" stroke-width="0.8"/>
<line x1="673.30" y1="17.30" x2="673.30" y2="20.80" stroke="#333" stroke-width="0.8"/>
<line x1="716.62" y1="281.30" x2="716.62" y2="277.80" stroke="#333" stroke-width="0.8"/>
<line x1="716.62" y1="17.30" x2="716.62" y2="20.80" stroke="#333" stroke-width="0.8"/>
<line x1="759.95" y1="281.30" x2="759.95" y2="277.80" stroke="#333" stroke-width="0.8"/>
<line x1="759.95" y1="17.30" x2="759.95" y2="20.80" stroke="#333" stroke-width="0.8"/>
<line x1="803.28" y1="281.30" x2="803.28" y2="277.80" stroke="#333" stroke-width="0.8"/>
<line x1="803.28" y1="17.30" x2="803.28" y2="20.80" stroke="#333" stroke-width="0.8"/>
<line x1="500.00" y1="243.79" x2="503.50" y2="243.79" stroke="#333" stroke-width="0.8"/>
<line x1="846.60" y1="243.79" x2="843.10" y2="243.79" stroke="#333" stroke-width="0.8"/>
<line x1="500.00" y1="206.07" x2="503.50" y2="206.07" stroke="#333" stroke-width="0.8"/>
<line x1="846.60" y1="206.07" x2="843.10" y2="206.07" stroke="#333" stroke-width="0.8"/>
<line x1="500.00" y1="168.36" x2="503.50" y2="168.36" stroke="#333" stroke-width="0.8"/>
<line x1="846.60" y1="168.36" x2="843.10" y2="168.36" stroke="#333" stroke-width="0.8"/>
<line x1="500.00" y1="130.64" x2="503.50" y2="130.64" stroke="#333" stroke-width="0.8"/>
<line x1="846.60" y1="130.64" x2="843.10" y2="130.64" stroke="#333" stroke-width="0.8"/>
<line x1="500.00" y1="92.93" x2="503.50" y2="92.93" stroke="#333" stroke-width="0.8"/>
<line x1="846.60" y1="92.93" x2="843.10" y2="92.93" stroke="#333" stroke-width="0.8"/>
<line x1="500.00" y1="55.21" x2="503.50" y2="55.21" stroke="#333" stroke-width="0.8"/>
<line x1="846.60" y1="55.21" x2="843.10" y2="55.21" stroke="#333" stroke-width="0.8"/>
<rect x="737.5" y="21.5" width="98.9" height="75" fill="#fff"/>
<clipPath id="cr"><rect x="500.00" y="17.30" width="346.60" height="264.00"/></clipPath>
<g clip-path="url(#cr)" fill="none" stroke-linejoin="round">
<path d="M500.00 43.32 L500.21 43.33 L500.42 43.34 L500.63 43.38 L500.83 43.46 L501.04 43.59 L501.25 43.78 L501.46 44.05 L501.67 44.40 L501.88 44.82 L502.08 45.31 L502.29 45.87 L502.50 46.49 L502.71 47.18 L502.92 47.92 L503.13 48.71 L503.33 49.55 L503.54 50.45 L503.75 51.38 L503.96 52.37 L504.17 53.39 L504.38 54.46 L504.58 55.56 L504.79 56.70 L505.00 57.88 L505.21 59.10 L505.42 60.35 L505.63 61.65 L505.83 62.98 L506.04 64.35 L506.25 65.76 L506.46 67.21 L506.67 68.71 L506.88 70.24 L507.08 71.82 L507.29 73.43 L507.50 75.09 L507.71 76.77 L507.92 78.48 L508.13 80.21 L508.34 81.97 L508.54 83.74 L508.75 85.51 L508.96 87.30 L509.17 89.08 L509.38 90.87 L509.59 92.64 L509.79 94.41 L510.00 96.16 L510.21 97.91 L510.42 99.65 L510.63 101.39 L510.84 103.12 L511.04 104.86 L511.25 106.59 L511.46 108.33 L511.67 110.08 L511.88 111.84 L512.09 113.60 L512.29 115.37 L512.50 117.15 L512.71 118.92 L512.92 120.68 L513.13 122.44 L513.34 124.18 L513.54 125.91 L513.75 127.62 L513.96 129.30 L514.17 130.95 L514.38 132.58 L514.59 134.17 L514.79 135.75 L515.00 137.30 L515.21 138.84 L515.42 140.37 L515.63 141.90 L515.84 143.42 L516.05 144.95 L516.25 146.48 L516.46 148.02 L516.67 149.57 L516.88 151.14 L517.09 152.72 L517.30 154.30 L517.50 155.89 L517.71 157.48 L517.92 159.06 L518.13 160.63 L518.34 162.18 L518.55 163.70 L518.75 165.21 L518.96 166.68 L519.17 168.11 L519.38 169.51 L519.59 170.86 L519.80 172.19 L520.00 173.47 L520.21 174.72 L520.42 175.95 L520.63 177.14 L520.84 178.30 L521.05 179.44 L521.25 180.55 L521.46 181.64 L521.67 182.70 L521.88 183.75 L522.09 184.77 L522.30 185.78 L522.50 186.78 L522.71 187.76 L522.92 188.73 L523.13 189.69 L523.34 190.64 L523.55 191.57 L523.75 192.50 L523.96 193.42 L524.17 194.33 L524.38 195.23 L524.59 196.12 L524.80 197.00 L525.01 197.86 L525.21 198.72 L525.42 199.57 L525.63 200.41 L525.84 201.24 L526.05 202.06 L526.26 202.87 L526.46 203.68 L526.67 204.47 L526.88 205.25 L527.09 206.03 L527.30 206.79 L527.51 207.56 L527.71 208.31 L527.92 209.07 L528.13 209.83 L528.34 210.58 L528.55 211.34 L528.76 212.11 L528.96 212.88 L529.17 213.65 L529.38 214.42 L529.59 215.19 L529.80 215.95 L530.01 216.71 L530.21 217.45 L530.42 218.18 L530.63 218.88 L530.84 219.57 L531.05 220.23 L531.26 220.87 L531.46 221.48 L531.67 222.07 L531.88 222.63 L532.09 223.17 L532.30 223.70 L532.51 224.20 L532.72 224.70 L532.92 225.17 L533.13 225.64 L533.34 226.10 L533.55 226.55 L533.76 226.99 L533.97 227.43 L534.17 227.86 L534.38 228.29 L534.59 228.72 L534.80 229.16 L535.01 229.59 L535.22 230.03 L535.42 230.47 L535.63 230.92 L535.84 231.36 L536.05 231.80 L536.26 232.25 L536.47 232.69 L536.67 233.13 L536.88 233.56 L537.09 233.99 L537.30 234.41 L537.51 234.83 L537.72 235.24 L537.92 235.63 L538.13 236.01 L538.34 236.37 L538.55 236.70 L538.76 237.02 L538.97 237.31 L539.17 237.56 L539.38 237.79 L539.59 237.99 L539.80 238.16 L540.01 238.30 L540.22 238.41 L540.43 238.51 L540.63 238.59 L540.84 238.65 L541.05 238.70 L541.26 238.75 L541.47 238.79 L541.68 238.83 L541.88 238.87 L542.09 238.91 L542.30 238.95 L542.51 238.99 L542.72 239.03 L542.93 239.07 L543.13 239.11 L543.34 239.15 L543.55 239.19 L543.76 239.23 L543.97 239.27 L544.18 239.30 L544.38 239.33 L544.59 239.35 L544.80 239.38 L545.01 239.40 L545.22 239.42 L545.43 239.44 L545.63 239.46 L545.84 239.47 L546.05 239.48 L546.26 239.50 L546.47 239.51 L546.68 239.52 L546.88 239.52 L547.09 239.53 L547.30 239.54 L547.51 239.55 L547.72 239.55 L547.93 239.56 L548.14 239.57 L548.34 239.58 L548.55 239.59 L548.76 239.60 L548.97 239.61 L549.18 239.62 L549.39 239.63 L549.59 239.65 L549.80 239.66 L550.01 239.68 L550.22 239.70 L550.43 239.72 L550.64 239.74 L550.84 239.77 L551.05 239.79 L551.26 239.82 L551.47 239.85 L551.68 239.88 L551.89 239.92 L552.09 239.95 L552.30 239.99 L552.51 240.03 L552.72 240.07 L552.93 240.11 L553.14 240.15 L553.34 240.20 L553.55 240.24 L553.76 240.29 L553.97 240.35 L554.18 240.40 L554.39 240.46 L554.59 240.52 L554.80 240.58 L555.01 240.65 L555.22 240.72 L555.43 240.79 L555.64 240.87 L555.84 240.95 L556.05 241.02 L556.26 241.10 L556.47 241.19 L556.68 241.27 L556.89 241.35 L557.10 241.43 L557.30 241.51 L557.51 241.59 L557.72 241.67 L557.93 241.75 L558.14 241.83 L558.35 241.90 L558.55 241.97 L558.76 242.04 L558.97 242.11 L559.18 242.17 L559.39 242.23 L559.60 242.28 L559.80 242.34 L560.01 242.39 L560.22 242.44 L560.43 242.48 L560.64 242.52 L560.85 242.56 L561.05 242.60 L561.26 242.64 L561.47 242.67 L561.68 242.70 L561.89 242.72 L562.10 242.75 L562.30 242.77 L562.51 242.79 L562.72 242.81 L562.93 242.83 L563.14 242.85 L563.35 242.87 L563.55 242.88 L563.76 242.90 L563.97 242.91 L564.18 242.92 L564.39 242.94 L564.60 242.95 L564.81 242.96 L565.01 242.97 L565.22 242.98 L565.43 243.00 L565.64 243.01 L565.85 243.02 L566.06 243.03 L566.26 243.04 L566.47 243.05 L566.68 243.06 L566.89 243.07 L567.10 243.08 L567.31 243.09 L567.51 243.10 L567.72 243.12 L567.93 243.13 L568.14 243.14 L568.35 243.15 L568.56 243.16 L568.76 243.17 L568.97 243.18 L569.18 243.19 L569.39 243.20 L569.60 243.21 L569.81 243.22 L570.01 243.23 L570.22 243.24 L570.43 243.25 L570.64 243.26 L570.85 243.27 L571.06 243.28 L571.26 243.29 L571.47 243.29 L571.68 243.30 L571.89 243.31 L572.10 243.32 L572.31 243.33 L572.52 243.34 L572.72 243.35 L572.93 243.36 L573.14 243.36 L573.35 243.37 L573.56 243.38 L573.77 243.39 L573.97 243.40 L574.18 243.40 L574.39 243.41 L574.60 243.42 L574.81 243.43 L575.02 243.43 L575.22 243.44 L575.43 243.45 L575.64 243.45 L575.85 243.46 L576.06 243.47 L576.27 243.47 L576.47 243.48 L576.68 243.49 L576.89 243.49 L577.10 243.50 L577.31 243.50 L577.52 243.51 L577.72 243.51 L577.93 243.52 L578.14 243.52 L578.35 243.53 L578.56 243.53 L578.77 243.54 L578.97 243.54 L579.18 243.55 L579.39 243.55 L579.60 243.55 L579.81 243.56 L580.02 243.56 L580.23 243.57 L580.43 243.57 L580.64 243.57 L580.85 243.58 L581.06 243.58 L581.27 243.58 L581.48 243.59 L581.68 243.59 L581.89 243.59 L582.10 243.59 L582.31 243.60 L582.52 243.60 L582.73 243.60 L582.93 243.60 L583.14 243.61 L583.35 243.61 L583.56 243.61 L583.77 243.61 L583.98 243.62 L584.18 243.62 L584.39 243.62 L584.60 243.62 L584.81 243.62 L585.02 243.62 L585.23 243.63 L585.43 243.63 L585.64 243.63 L585.85 243.63 L586.06 243.63 L586.27 243.63 L586.48 243.63 L586.68 243.64 L586.89 243.64 L587.10 243.64 L587.31 243.64 L587.52 243.64 L587.73 243.64 L587.93 243.64 L588.14 243.64 L588.35 243.64 L588.56 243.64 L588.77 243.64 L588.98 243.65 L589.19 243.65 L589.39 243.65 L589.60 243.65 L589.81 243.65 L590.02 243.65 L590.23 243.65 L590.44 243.65 L590.64 243.65 L590.85 243.65 L591.06 243.65 L591.27 243.65 L591.48 243.65 L591.69 243.65 L591.89 243.65 L592.10 243.65 L592.31 243.65 L592.52 243.65 L592.73 243.65 L592.94 243.65 L593.14 243.65 L593.35 243.65 L593.56 243.65 L593.77 243.65 L593.98 243.65 L594.19 243.65 L594.39 243.65 L594.60 243.65 L594.81 243.65 L595.02 243.65 L595.23 243.65 L595.44 243.65 L595.64 243.65 L595.85 243.65 L596.06 243.65 L596.27 243.65 L596.48 243.65 L596.69 243.65 L596.90 243.65 L597.10 243.65 L597.31 243.65 L597.52 243.65 L597.73 243.65 L597.94 243.65 L598.15 243.65 L598.35 243.65 L598.56 243.65 L598.77 243.65 L598.98 243.65 L599.19 243.65 L599.40 243.65 L599.60 243.65 L599.81 243.65 L600.02 243.65 L600.23 243.64 L600.44 243.64 L600.65 243.64 L600.85 243.64 L601.06 243.64 L601.27 243.64 L601.48 243.64 L601.69 243.64 L601.90 243.64 L602.10 243.64 L602.31 243.64 L602.52 243.64 L602.73 243.64 L602.94 243.64 L603.15 243.64 L603.35 243.64 L603.56 243.64 L603.77 243.64 L603.98 243.63 L846.60 243.79" stroke="#000" stroke-width="3.5"/>
<path d="M500.00 43.37 L500.26 43.38 L500.52 43.41 L500.78 43.49 L501.04 43.65 L501.30 43.90 L501.56 44.28 L501.82 44.78 L502.08 45.38 L502.35 46.10 L502.61 46.91 L502.87 47.81 L503.13 48.79 L503.39 49.86 L503.65 50.99 L503.91 52.20 L504.17 53.48 L504.43 54.82 L504.69 56.21 L504.95 57.67 L505.21 59.18 L505.47 60.75 L505.73 62.39 L505.99 64.08 L506.25 65.84 L506.52 67.66 L506.78 69.54 L507.04 71.49 L507.30 73.50 L507.56 75.57 L507.82 77.68 L508.08 79.84 L508.34 82.03 L508.60 84.24 L508.86 86.46 L509.12 88.69 L509.38 90.92 L509.64 93.13 L509.90 95.33 L510.16 97.52 L510.42 99.70 L510.68 101.87 L510.95 104.04 L511.21 106.21 L511.47 108.38 L511.73 110.57 L511.99 112.77 L512.25 114.99 L512.51 117.21 L512.77 119.43 L513.03 121.64 L513.29 123.83 L513.55 126.00 L513.81 128.14 L514.07 130.23 L514.33 132.29 L514.59 134.30 L514.85 136.27 L515.11 138.22 L515.38 140.16 L515.64 142.08 L515.90 144.00 L516.16 145.92 L516.42 147.86 L516.68 149.82 L516.94 151.80 L517.20 153.80 L517.46 155.80 L517.72 157.81 L517.98 159.80 L518.24 161.78 L518.50 163.72 L518.76 165.62 L519.02 167.48 L519.28 169.28 L519.55 171.02 L519.81 172.70 L520.07 174.33 L520.33 175.91 L520.59 177.43 L520.85 178.92 L521.11 180.36 L521.37 181.77 L521.63 183.13 L521.89 184.47 L522.15 185.78 L522.41 187.06 L522.67 188.32 L522.93 189.56 L523.19 190.79 L523.45 192.00 L523.71 193.19 L523.98 194.37 L524.24 195.53 L524.50 196.68 L524.76 197.81 L525.02 198.93 L525.28 200.03 L525.54 201.12 L525.80 202.19 L526.06 203.25 L526.32 204.29 L526.58 205.32 L526.84 206.33 L527.10 207.33 L527.36 208.32 L527.62 209.30 L527.88 210.28 L528.14 211.26 L528.41 212.24 L528.67 213.23 L528.93 214.22 L529.19 215.22 L529.45 216.23 L529.71 217.22 L529.97 218.21 L530.23 219.18 L530.49 220.12 L530.75 221.03 L531.01 221.90 L531.27 222.73 L531.53 223.52 L531.79 224.27 L532.05 224.98 L532.31 225.66 L532.58 226.32 L532.84 226.95 L533.10 227.55 L533.36 228.15 L533.62 228.73 L533.88 229.30 L534.14 229.86 L534.40 230.43 L534.66 230.99 L534.92 231.57 L535.18 232.15 L535.44 232.74 L535.70 233.34 L535.96 233.95 L536.22 234.57 L536.48 235.19 L536.74 235.82 L537.01 236.45 L537.27 237.08 L537.53 237.72 L537.79 238.36 L538.05 239.00 L538.31 239.63 L538.57 240.26 L538.83 240.87 L539.09 241.46 L539.35 242.02 L539.61 242.56 L539.87 243.06 L540.13 243.52 L540.39 243.94 L540.65 244.32 L540.91 244.65 L541.18 244.95 L541.44 245.21 L541.70 245.44 L541.96 245.64 L542.22 245.82 L542.48 245.98 L542.74 246.12 L543.00 246.25 L543.26 246.36 L543.52 246.47 L543.78 246.58 L544.04 246.68 L544.30 246.79 L544.56 246.88 L544.82 246.98 L545.08 247.07 L545.34 247.16 L545.61 247.24 L545.87 247.32 L546.13 247.39 L546.39 247.46 L546.65 247.52 L546.91 247.58 L547.17 247.64 L547.43 247.68 L547.69 247.72 L547.95 247.76 L548.21 247.79 L548.47 247.82 L548.73 247.84 L548.99 247.85 L549.25 247.86 L549.51 247.86 L549.77 247.86 L550.04 247.85 L550.30 247.84 L550.56 247.82 L550.82 247.80 L551.08 247.77 L551.34 247.74 L551.60 247.70 L551.86 247.66 L552.12 247.61 L552.38 247.57 L552.64 247.51 L552.90 247.46 L553.16 247.40 L553.42 247.34 L553.68 247.27 L553.94 247.20 L554.21 247.12 L554.47 247.04 L554.73 246.95 L554.99 246.86 L555.25 246.76 L555.51 246.66 L555.77 246.55 L556.03 246.44 L556.29 246.33 L556.55 246.22 L556.81 246.10 L557.07 245.98 L557.33 245.87 L557.59 245.75 L557.85 245.64 L558.11 245.52 L558.37 245.41 L558.64 245.31 L558.90 245.20 L559.16 245.10 L559.42 245.01 L559.68 244.92 L559.94 244.83 L560.20 244.75 L560.46 244.67 L560.72 244.59 L560.98 244.52 L561.24 244.46 L561.50 244.39 L561.76 244.34 L562.02 244.28 L562.28 244.23 L562.54 244.19 L562.80 244.15 L563.07 244.11 L563.33 244.07 L563.59 244.04 L563.85 244.01 L564.11 243.99 L564.37 243.96 L564.63 243.94 L564.89 243.92 L565.15 243.90 L565.41 243.89 L565.67 243.87 L565.93 243.86 L566.19 243.84 L566.45 243.83 L566.71 243.82 L566.97 243.81 L567.24 243.81 L567.50 243.80 L567.76 243.79 L568.02 243.79 L568.28 243.78 L568.54 243.78 L568.80 243.77 L569.06 243.77 L569.32 243.77 L569.58 243.77 L569.84 243.77 L570.10 243.77 L570.36 243.77 L570.62 243.77 L570.88 243.77 L571.14 243.77 L571.40 243.77 L571.67 243.77 L571.93 243.77 L572.19 243.77 L572.45 243.78 L572.71 243.78 L572.97 243.78 L573.23 243.78 L573.49 243.78 L573.75 243.79 L574.01 243.79 L574.27 243.79 L574.53 243.79 L574.79 243.79 L575.05 243.79 L575.31 243.80 L575.57 243.80 L575.84 243.80 L576.10 243.80 L576.36 243.80 L576.62 243.80 L576.88 243.80 L577.14 243.80 L577.40 243.80 L577.66 243.80 L577.92 243.80 L578.18 243.80 L578.44 243.80 L578.70 243.80 L578.96 243.80 L579.22 243.80 L579.48 243.80 L579.74 243.80 L580.00 243.80 L580.27 243.80 L580.53 243.80 L580.79 243.80 L581.05 243.80 L581.31 243.80 L581.57 243.80 L581.83 243.80 L582.09 243.80 L582.35 243.80 L582.61 243.80 L582.87 243.80 L583.13 243.80 L583.39 243.79 L583.65 243.79 L583.91 243.79 L584.17 243.79 L584.43 243.79 L584.70 243.79 L584.96 243.79 L585.22 243.79 L585.48 243.79 L585.74 243.79 L586.00 243.79 L586.26 243.79 L586.52 243.79 L586.78 243.79 L587.04 243.78 L587.30 243.78 L587.56 243.78 L587.82 243.78 L588.08 243.78 L588.34 243.78 L588.60 243.78 L588.87 243.78 L589.13 243.78 L589.39 243.78 L589.65 243.78 L589.91 243.78 L590.17 243.78 L590.43 243.78 L590.69 243.78 L590.95 243.78 L591.21 243.78 L591.47 243.78 L591.73 243.78 L591.99 243.78 L592.25 243.78 L592.51 243.78 L592.77 243.78 L593.03 243.78 L593.30 243.78 L593.56 243.78 L593.82 243.78 L594.08 243.78 L594.34 243.78 L594.60 243.78 L594.86 243.78 L595.12 243.78 L595.38 243.78 L595.64 243.78 L595.90 243.78 L596.16 243.78 L596.42 243.78 L596.68 243.78 L596.94 243.78 L597.20 243.78 L597.46 243.78 L597.73 243.78 L597.99 243.78 L598.25 243.78 L598.51 243.78 L598.77 243.78 L599.03 243.78 L599.29 243.78 L599.55 243.78 L599.81 243.78 L600.07 243.78 L600.33 243.78 L600.59 243.78 L600.85 243.78 L601.11 243.78 L601.37 243.78 L601.63 243.78 L601.90 243.78 L602.16 243.78 L602.42 243.78 L602.68 243.78 L602.94 243.78 L603.20 243.78 L603.46 243.79 L603.72 243.79 L603.98 243.79 L846.60 243.79" stroke="#ff2a00" stroke-width="2.1"/>
<path d="M500.00 244.62 L500.26 244.62 L500.52 244.62 L500.78 244.62 L501.04 244.62 L501.30 244.62 L501.56 244.62 L501.82 244.62 L502.08 244.62 L502.35 244.62 L502.61 244.62 L502.87 244.62 L503.13 244.62 L503.39 244.62 L503.65 244.62 L503.91 244.62 L504.17 244.62 L504.43 244.62 L504.69 244.62 L504.95 244.62 L505.21 244.62 L505.47 244.62 L505.73 244.62 L505.99 244.62 L506.25 244.62 L506.52 244.62 L506.78 244.62 L507.04 244.62 L507.30 244.62 L507.56 244.62 L507.82 244.62 L508.08 244.62 L508.34 244.62 L508.60 244.62 L508.86 244.62 L509.12 244.62 L509.38 244.62 L509.64 244.62 L509.90 244.62 L510.16 244.62 L510.42 244.62 L510.68 244.62 L510.95 244.62 L511.21 244.62 L511.47 244.62 L511.73 244.62 L511.99 244.62 L512.25 244.62 L512.51 244.62 L512.77 244.62 L513.03 244.62 L513.29 244.62 L513.55 244.62 L513.81 244.62 L514.07 244.62 L514.33 244.62 L514.59 244.62 L514.85 244.62 L515.11 244.62 L515.38 244.62 L515.64 244.62 L515.90 244.62 L516.16 244.62 L516.42 244.62 L516.68 244.62 L516.94 244.62 L517.20 244.62 L517.46 244.62 L517.72 244.62 L517.98 244.61 L518.24 244.61 L518.50 244.61 L518.76 244.61 L519.02 244.61 L519.28 244.61 L519.55 244.61 L519.81 244.61 L520.07 244.60 L520.33 244.60 L520.59 244.60 L520.85 244.60 L521.11 244.60 L521.37 244.59 L521.63 244.59 L521.89 244.59 L522.15 244.59 L522.41 244.58 L522.67 244.58 L522.93 244.58 L523.19 244.57 L523.45 244.57 L523.71 244.57 L523.98 244.56 L524.24 244.56 L524.50 244.56 L524.76 244.55 L525.02 244.55 L525.28 244.55 L525.54 244.55 L525.80 244.54 L526.06 244.54 L526.32 244.54 L526.58 244.53 L526.84 244.53 L527.10 244.53 L527.36 244.52 L527.62 244.52 L527.88 244.51 L528.14 244.51 L528.41 244.51 L528.67 244.50 L528.93 244.50 L529.19 244.49 L529.45 244.49 L529.71 244.49 L529.97 244.48 L530.23 244.48 L530.49 244.47 L530.75 244.47 L531.01 244.46 L531.27 244.46 L531.53 244.45 L531.79 244.45 L532.05 244.44 L532.31 244.44 L532.58 244.43 L532.84 244.43 L533.10 244.42 L533.36 244.42 L533.62 244.41 L533.88 244.41 L534.14 244.40 L534.40 244.39 L534.66 244.39 L534.92 244.38 L535.18 244.38 L535.44 244.37 L535.70 244.37 L535.96 244.36 L536.22 244.35 L536.48 244.35 L536.74 244.34 L537.01 244.33 L537.27 244.33 L537.53 244.32 L537.79 244.31 L538.05 244.31 L538.31 244.30 L538.57 244.29 L538.83 244.29 L539.09 244.28 L539.35 244.27 L539.61 244.26 L539.87 244.26 L540.13 244.25 L540.39 244.24 L540.65 244.24 L540.91 244.23 L541.18 244.22 L541.44 244.21 L541.70 244.21 L541.96 244.20 L542.22 244.19 L542.48 244.19 L542.74 244.18 L543.00 244.17 L543.26 244.16 L543.52 244.16 L543.78 244.15 L544.04 244.14 L544.30 244.14 L544.56 244.13 L544.82 244.12 L545.08 244.12 L545.34 244.11 L545.61 244.10 L545.87 244.09 L546.13 244.09 L546.39 244.08 L546.65 244.07 L546.91 244.06 L547.17 244.06 L547.43 244.05 L547.69 244.04 L547.95 244.04 L548.21 244.03 L548.47 244.02 L548.73 244.02 L548.99 244.01 L549.25 244.00 L549.51 243.99 L549.77 243.99 L550.04 243.98 L550.30 243.98 L550.56 243.97 L550.82 243.96 L551.08 243.96 L551.34 243.95 L551.60 243.94 L551.86 243.94 L552.12 243.93 L552.38 243.93 L552.64 243.92 L552.90 243.92 L553.16 243.91 L553.42 243.90 L553.68 243.90 L553.94 243.89 L554.21 243.89 L554.47 243.88 L554.73 243.87 L554.99 243.87 L555.25 243.86 L555.51 243.86 L555.77 243.85 L556.03 243.84 L556.29 243.84 L556.55 243.83 L556.81 243.83 L557.07 243.82 L557.33 243.82 L557.59 243.81 L557.85 243.81 L558.11 243.81 L558.37 243.80 L558.64 243.80 L558.90 243.80 L559.16 243.79 L559.42 243.79 L559.68 243.79 L559.94 243.79 L560.20 243.79 L560.46 243.79 L560.72 243.79 L560.98 243.79 L561.24 243.79 L561.50 243.79 L561.76 243.79 L562.02 243.79 L562.28 243.79 L562.54 243.79 L562.80 243.79 L563.07 243.79 L563.33 243.79 L563.59 243.79 L563.85 243.79 L564.11 243.79 L564.37 243.79 L564.63 243.79 L564.89 243.79 L565.15 243.79 L565.41 243.79 L565.67 243.79 L565.93 243.79 L566.19 243.79 L566.45 243.79 L566.71 243.79 L566.97 243.79 L567.24 243.79 L567.50 243.79 L567.76 243.79 L568.02 243.79 L568.28 243.79 L568.54 243.79 L568.80 243.79 L569.06 243.79 L569.32 243.79 L569.58 243.79 L569.84 243.79 L570.10 243.79 L570.36 243.79 L570.62 243.79 L570.88 243.79 L571.14 243.79 L571.40 243.79 L571.67 243.79 L571.93 243.79 L572.19 243.79 L572.45 243.79 L572.71 243.79 L572.97 243.79 L573.23 243.79 L573.49 243.79 L573.75 243.79 L574.01 243.79 L574.27 243.79 L574.53 243.79 L574.79 243.79 L575.05 243.79 L575.31 243.79 L575.57 243.79 L575.84 243.79 L576.10 243.79 L576.36 243.79 L576.62 243.79 L576.88 243.79 L577.14 243.79 L577.40 243.79 L577.66 243.79 L577.92 243.79 L578.18 243.79 L578.44 243.79 L578.70 243.79 L578.96 243.79 L579.22 243.79 L579.48 243.79 L579.74 243.79 L580.00 243.79 L580.27 243.79 L580.53 243.79 L580.79 243.79 L581.05 243.79 L581.31 243.79 L581.57 243.79 L581.83 243.79 L582.09 243.79 L582.35 243.79 L582.61 243.79 L582.87 243.79 L583.13 243.79 L583.39 243.79 L583.65 243.79 L583.91 243.79 L584.17 243.79 L584.43 243.79 L584.70 243.79 L584.96 243.79 L585.22 243.79 L585.48 243.79 L585.74 243.79 L586.00 243.79 L586.26 243.79 L586.52 243.79 L586.78 243.79 L587.04 243.79 L587.30 243.79 L587.56 243.79 L587.82 243.79 L588.08 243.79 L588.34 243.79 L588.60 243.79 L588.87 243.79 L589.13 243.79 L589.39 243.79 L589.65 243.79 L589.91 243.79 L590.17 243.79 L590.43 243.79 L590.69 243.79 L590.95 243.79 L591.21 243.79 L591.47 243.79 L591.73 243.79 L591.99 243.79 L592.25 243.79 L592.51 243.79 L592.77 243.79 L593.03 243.79 L593.30 243.79 L593.56 243.79 L593.82 243.79 L594.08 243.79 L594.34 243.79 L594.60 243.79 L594.86 243.79 L595.12 243.79 L595.38 243.79 L595.64 243.79 L595.90 243.79 L596.16 243.79 L596.42 243.79 L596.68 243.79 L596.94 243.79 L597.20 243.79 L597.46 243.79 L597.73 243.79 L597.99 243.79 L598.25 243.79 L598.51 243.79 L598.77 243.79 L599.03 243.79 L599.29 243.79 L599.55 243.79 L599.81 243.79 L600.07 243.79 L600.33 243.79 L600.59 243.79 L600.85 243.79 L601.11 243.79 L601.37 243.79 L601.63 243.79 L601.90 243.79 L602.16 243.79 L602.42 243.79 L602.68 243.79 L602.94 243.79 L603.20 243.79 L603.46 243.79 L603.72 243.79 L603.98 243.79 L846.60 243.79" stroke="#ff2a00" stroke-width="2.1" stroke-dasharray="14.8 3.6"/>
<path d="M500.00 248.16 L500.26 248.29 L500.52 248.41 L500.78 248.53 L501.04 248.64 L501.30 248.75 L501.56 248.85 L501.82 248.95 L502.08 249.03 L502.35 249.10 L502.61 249.15 L502.87 249.20 L503.13 249.22 L503.39 249.23 L503.65 249.22 L503.91 249.19 L504.17 249.15 L504.43 249.08 L504.69 249.00 L504.95 248.90 L505.21 248.78 L505.47 248.65 L505.73 248.51 L505.99 248.35 L506.25 248.19 L506.52 248.01 L506.78 247.82 L507.04 247.63 L507.30 247.43 L507.56 247.22 L507.82 247.00 L508.08 246.78 L508.34 246.55 L508.60 246.31 L508.86 246.07 L509.12 245.82 L509.38 245.57 L509.64 245.31 L509.90 245.04 L510.16 244.78 L510.42 244.50 L510.68 244.23 L510.95 243.94 L511.21 243.66 L511.47 243.37 L511.73 243.08 L511.99 242.79 L512.25 242.50 L512.51 242.20 L512.77 241.91 L513.03 241.62 L513.29 241.32 L513.55 241.03 L513.81 240.74 L514.07 240.46 L514.33 240.18 L514.59 239.90 L514.85 239.63 L515.11 239.36 L515.38 239.10 L515.64 238.85 L515.90 238.60 L516.16 238.36 L516.42 238.13 L516.68 237.90 L516.94 237.68 L517.20 237.47 L517.46 237.27 L517.72 237.07 L517.98 236.88 L518.24 236.70 L518.50 236.52 L518.76 236.35 L519.02 236.19 L519.28 236.03 L519.55 235.88 L519.81 235.74 L520.07 235.61 L520.33 235.48 L520.59 235.36 L520.85 235.24 L521.11 235.13 L521.37 235.03 L521.63 234.93 L521.89 234.84 L522.15 234.76 L522.41 234.68 L522.67 234.61 L522.93 234.54 L523.19 234.48 L523.45 234.43 L523.71 234.37 L523.98 234.33 L524.24 234.29 L524.50 234.25 L524.76 234.22 L525.02 234.20 L525.28 234.18 L525.54 234.16 L525.80 234.15 L526.06 234.14 L526.32 234.13 L526.58 234.13 L526.84 234.13 L527.10 234.14 L527.36 234.15 L527.62 234.17 L527.88 234.18 L528.14 234.21 L528.41 234.23 L528.67 234.27 L528.93 234.30 L529.19 234.35 L529.45 234.39 L529.71 234.44 L529.97 234.50 L530.23 234.56 L530.49 234.63 L530.75 234.70 L531.01 234.77 L531.27 234.85 L531.53 234.94 L531.79 235.02 L532.05 235.11 L532.31 235.21 L532.58 235.30 L532.84 235.40 L533.10 235.50 L533.36 235.60 L533.62 235.70 L533.88 235.80 L534.14 235.91 L534.40 236.01 L534.66 236.11 L534.92 236.21 L535.18 236.31 L535.44 236.42 L535.70 236.52 L535.96 236.62 L536.22 236.72 L536.48 236.83 L536.74 236.93 L537.01 237.03 L537.27 237.14 L537.53 237.25 L537.79 237.35 L538.05 237.46 L538.31 237.57 L538.57 237.68 L538.83 237.79 L539.09 237.91 L539.35 238.02 L539.61 238.14 L539.87 238.26 L540.13 238.38 L540.39 238.50 L540.65 238.62 L540.91 238.74 L541.18 238.87 L541.44 239.00 L541.70 239.12 L541.96 239.25 L542.22 239.38 L542.48 239.52 L542.74 239.65 L543.00 239.78 L543.26 239.92 L543.52 240.06 L543.78 240.19 L544.04 240.33 L544.30 240.47 L544.56 240.61 L544.82 240.75 L545.08 240.89 L545.34 241.03 L545.61 241.17 L545.87 241.31 L546.13 241.45 L546.39 241.59 L546.65 241.72 L546.91 241.85 L547.17 241.98 L547.43 242.11 L547.69 242.24 L547.95 242.36 L548.21 242.48 L548.47 242.60 L548.73 242.71 L548.99 242.82 L549.25 242.92 L549.51 243.03 L549.77 243.12 L550.04 243.22 L550.30 243.31 L550.56 243.40 L550.82 243.49 L551.08 243.57 L551.34 243.65 L551.60 243.73 L551.86 243.80 L552.12 243.87 L552.38 243.93 L552.64 244.00 L552.90 244.06 L553.16 244.12 L553.42 244.17 L553.68 244.22 L553.94 244.27 L554.21 244.32 L554.47 244.36 L554.73 244.40 L554.99 244.44 L555.25 244.47 L555.51 244.51 L555.77 244.54 L556.03 244.56 L556.29 244.59 L556.55 244.61 L556.81 244.63 L557.07 244.65 L557.33 244.67 L557.59 244.68 L557.85 244.70 L558.11 244.71 L558.37 244.72 L558.64 244.73 L558.90 244.73 L559.16 244.74 L559.42 244.74 L559.68 244.74 L559.94 244.74 L560.20 244.74 L560.46 244.74 L560.72 244.73 L560.98 244.73 L561.24 244.73 L561.50 244.72 L561.76 244.71 L562.02 244.71 L562.28 244.70 L562.54 244.69 L562.80 244.68 L563.07 244.67 L563.33 244.66 L563.59 244.65 L563.85 244.64 L564.11 244.63 L564.37 244.62 L564.63 244.61 L564.89 244.59 L565.15 244.58 L565.41 244.57 L565.67 244.56 L565.93 244.55 L566.19 244.53 L566.45 244.52 L566.71 244.51 L566.97 244.49 L567.24 244.48 L567.50 244.47 L567.76 244.45 L568.02 244.44 L568.28 244.43 L568.54 244.42 L568.80 244.40 L569.06 244.39 L569.32 244.38 L569.58 244.36 L569.84 244.35 L570.10 244.34 L570.36 244.33 L570.62 244.31 L570.88 244.30 L571.14 244.29 L571.40 244.28 L571.67 244.27 L571.93 244.26 L572.19 244.25 L572.45 244.23 L572.71 244.22 L572.97 244.21 L573.23 244.20 L573.49 244.19 L573.75 244.18 L574.01 244.17 L574.27 244.16 L574.53 244.15 L574.79 244.14 L575.05 244.14 L575.31 244.13 L575.57 244.12 L575.84 244.11 L576.10 244.10 L576.36 244.09 L576.62 244.09 L576.88 244.08 L577.14 244.07 L577.40 244.07 L577.66 244.06 L577.92 244.05 L578.18 244.05 L578.44 244.04 L578.70 244.03 L578.96 244.03 L579.22 244.02 L579.48 244.02 L579.74 244.01 L580.00 244.01 L580.27 244.00 L580.53 244.00 L580.79 244.00 L581.05 243.99 L581.31 243.99 L581.57 243.98 L581.83 243.98 L582.09 243.98 L582.35 243.97 L582.61 243.97 L582.87 243.97 L583.13 243.96 L583.39 243.96 L583.65 243.96 L583.91 243.96 L584.17 243.95 L584.43 243.95 L584.70 243.95 L584.96 243.95 L585.22 243.95 L585.48 243.94 L585.74 243.94 L586.00 243.94 L586.26 243.94 L586.52 243.94 L586.78 243.94 L587.04 243.93 L587.30 243.93 L587.56 243.93 L587.82 243.93 L588.08 243.93 L588.34 243.93 L588.60 243.93 L588.87 243.93 L589.13 243.93 L589.39 243.92 L589.65 243.92 L589.91 243.92 L590.17 243.92 L590.43 243.92 L590.69 243.92 L590.95 243.92 L591.21 243.92 L591.47 243.92 L591.73 243.92 L591.99 243.92 L592.25 243.92 L592.51 243.92 L592.77 243.92 L593.03 243.92 L593.30 243.92 L593.56 243.92 L593.82 243.92 L594.08 243.92 L594.34 243.92 L594.60 243.92 L594.86 243.92 L595.12 243.92 L595.38 243.92 L595.64 243.92 L595.90 243.92 L596.16 243.92 L596.42 243.92 L596.68 243.92 L596.94 243.92 L597.20 243.92 L597.46 243.92 L597.73 243.92 L597.99 243.92 L598.25 243.92 L598.51 243.92 L598.77 243.92 L599.03 243.92 L599.29 243.92 L599.55 243.92 L599.81 243.93 L600.07 243.93 L600.33 243.93 L600.59 243.93 L600.85 243.93 L601.11 243.93 L601.37 243.93 L601.63 243.93 L601.90 243.93 L602.16 243.93 L602.42 243.93 L602.68 243.93 L602.94 243.93 L603.20 243.93 L603.46 243.94 L603.72 243.94 L603.98 243.94 L846.60 243.94" stroke="#0a32ff" stroke-width="2.1"/>
<path d="M562.39 242.71 L590.98 242.26 L846.60 242.26 L846.60 245.16 L590.98 245.16 L562.39 244.71 Z" fill="#0a32ff" stroke="none"/>
<path d="M500.00 243.37 L500.26 243.37 L500.52 243.37 L500.78 243.37 L501.04 243.37 L501.30 243.37 L501.56 243.37 L501.82 243.37 L502.08 243.37 L502.35 243.37 L502.61 243.37 L502.87 243.37 L503.13 243.37 L503.39 243.37 L503.65 243.37 L503.91 243.37 L504.17 243.37 L504.43 243.37 L504.69 243.37 L504.95 243.37 L505.21 243.37 L505.47 243.37 L505.73 243.37 L505.99 243.37 L506.25 243.37 L506.52 243.37 L506.78 243.37 L507.04 243.37 L507.30 243.37 L507.56 243.37 L507.82 243.37 L508.08 243.37 L508.34 243.37 L508.60 243.37 L508.86 243.37 L509.12 243.37 L509.38 243.37 L509.64 243.37 L509.90 243.37 L510.16 243.37 L510.42 243.37 L510.68 243.37 L510.95 243.37 L511.21 243.37 L511.47 243.37 L511.73 243.37 L511.99 243.37 L512.25 243.37 L512.51 243.37 L512.77 243.37 L513.03 243.37 L513.29 243.37 L513.55 243.37 L513.81 243.37 L514.07 243.37 L514.33 243.37 L514.59 243.37 L514.85 243.37 L515.11 243.37 L515.38 243.37 L515.64 243.37 L515.90 243.37 L516.16 243.37 L516.42 243.37 L516.68 243.37 L516.94 243.37 L517.20 243.37 L517.46 243.37 L517.72 243.37 L517.98 243.37 L518.24 243.37 L518.50 243.37 L518.76 243.37 L519.02 243.37 L519.28 243.37 L519.55 243.37 L519.81 243.37 L520.07 243.37 L520.33 243.37 L520.59 243.37 L520.85 243.37 L521.11 243.37 L521.37 243.37 L521.63 243.37 L521.89 243.37 L522.15 243.37 L522.41 243.38 L522.67 243.38 L522.93 243.38 L523.19 243.38 L523.45 243.38 L523.71 243.38 L523.98 243.38 L524.24 243.38 L524.50 243.38 L524.76 243.38 L525.02 243.38 L525.28 243.38 L525.54 243.38 L525.80 243.38 L526.06 243.38 L526.32 243.38 L526.58 243.38 L526.84 243.38 L527.10 243.39 L527.36 243.39 L527.62 243.39 L527.88 243.39 L528.14 243.39 L528.41 243.39 L528.67 243.39 L528.93 243.39 L529.19 243.39 L529.45 243.39 L529.71 243.39 L529.97 243.39 L530.23 243.39 L530.49 243.40 L530.75 243.40 L531.01 243.40 L531.27 243.40 L531.53 243.40 L531.79 243.40 L532.05 243.40 L532.31 243.40 L532.58 243.40 L532.84 243.40 L533.10 243.40 L533.36 243.40 L533.62 243.41 L533.88 243.41 L534.14 243.41 L534.40 243.41 L534.66 243.41 L534.92 243.41 L535.18 243.41 L535.44 243.41 L535.70 243.41 L535.96 243.41 L536.22 243.41 L536.48 243.42 L536.74 243.42 L537.01 243.42 L537.27 243.42 L537.53 243.42 L537.79 243.42 L538.05 243.42 L538.31 243.42 L538.57 243.43 L538.83 243.43 L539.09 243.43 L539.35 243.43 L539.61 243.43 L539.87 243.43 L540.13 243.44 L540.39 243.44 L540.65 243.44 L540.91 243.44 L541.18 243.44 L541.44 243.44 L541.70 243.45 L541.96 243.45 L542.22 243.45 L542.48 243.45 L542.74 243.45 L543.00 243.45 L543.26 243.46 L543.52 243.46 L543.78 243.46 L544.04 243.46 L544.30 243.46 L544.56 243.46 L544.82 243.47 L545.08 243.47 L545.34 243.47 L545.61 243.47 L545.87 243.47 L546.13 243.47 L546.39 243.48 L546.65 243.48 L546.91 243.48 L547.17 243.48 L547.43 243.48 L547.69 243.48 L547.95 243.49 L548.21 243.49 L548.47 243.49 L548.73 243.49 L548.99 243.49 L549.25 243.49 L549.51 243.49 L549.77 243.50 L550.04 243.50 L550.30 243.50 L550.56 243.50 L550.82 243.50 L551.08 243.50 L551.34 243.51 L551.60 243.51 L551.86 243.51 L552.12 243.51 L552.38 243.51 L552.64 243.51 L552.90 243.52 L553.16 243.52 L553.42 243.52 L553.68 243.52 L553.94 243.52 L554.21 243.52 L554.47 243.52 L554.73 243.53 L554.99 243.53 L555.25 243.53 L555.51 243.53 L555.77 243.53 L556.03 243.53 L556.29 243.54 L556.55 243.54 L556.81 243.54 L557.07 243.54 L557.33 243.54 L557.59 243.54 L557.85 243.54 L558.11 243.55 L558.37 243.55 L558.64 243.55 L558.90 243.55 L559.16 243.55 L559.42 243.55 L559.68 243.55 L559.94 243.56 L560.20 243.56 L560.46 243.56 L560.72 243.56 L560.98 243.56 L561.24 243.56 L561.50 243.56 L561.76 243.57 L562.02 243.57 L562.28 243.57 L562.54 243.57 L562.80 243.57 L563.07 243.57 L563.33 243.57 L563.59 243.58 L563.85 243.58 L564.11 243.58 L564.37 243.58 L564.63 243.58 L564.89 243.58 L565.15 243.58 L565.41 243.59 L565.67 243.59 L565.93 243.59 L566.19 243.59 L566.45 243.59 L566.71 243.59 L566.97 243.59 L567.24 243.60 L567.50 243.60 L567.76 243.60 L568.02 243.60 L568.28 243.60 L568.54 243.60 L568.80 243.61 L569.06 243.61 L569.32 243.61 L569.58 243.61 L569.84 243.61 L570.10 243.61 L570.36 243.61 L570.62 243.61 L570.88 243.62 L571.14 243.62 L571.40 243.62 L571.67 243.62 L571.93 243.62 L572.19 243.62 L572.45 243.62 L572.71 243.62 L572.97 243.62 L573.23 243.63 L573.49 243.63 L573.75 243.63 L574.01 243.63 L574.27 243.63 L574.53 243.63 L574.79 243.63 L575.05 243.63 L575.31 243.63 L575.57 243.63 L575.84 243.63 L576.10 243.63 L576.36 243.63 L576.62 243.63 L576.88 243.63 L577.14 243.63 L577.40 243.63 L577.66 243.63 L577.92 243.63 L578.18 243.63 L578.44 243.63 L578.70 243.63 L578.96 243.63 L579.22 243.63 L579.48 243.63 L579.74 243.63 L580.00 243.63 L580.27 243.63 L580.53 243.63 L580.79 243.63 L581.05 243.63 L581.31 243.63 L581.57 243.63 L581.83 243.63 L582.09 243.63 L582.35 243.63 L582.61 243.63 L582.87 243.63 L583.13 243.63 L583.39 243.63 L583.65 243.63 L583.91 243.63 L584.17 243.63 L584.43 243.63 L584.70 243.63 L584.96 243.63 L585.22 243.63 L585.48 243.63 L585.74 243.63 L586.00 243.63 L586.26 243.63 L586.52 243.63 L586.78 243.63 L587.04 243.63 L587.30 243.63 L587.56 243.63 L587.82 243.63 L588.08 243.63 L588.34 243.63 L588.60 243.63 L588.87 243.63 L589.13 243.63 L589.39 243.63 L589.65 243.63 L589.91 243.63 L590.17 243.63 L590.43 243.63 L590.69 243.63 L590.95 243.63 L591.21 243.63 L591.47 243.63 L591.73 243.63 L591.99 243.63 L592.25 243.63 L592.51 243.63 L592.77 243.63 L593.03 243.63 L593.30 243.63 L593.56 243.63 L593.82 243.63 L594.08 243.63 L594.34 243.63 L594.60 243.63 L594.86 243.63 L595.12 243.63 L595.38 243.63 L595.64 243.63 L595.90 243.63 L596.16 243.63 L596.42 243.63 L596.68 243.63 L596.94 243.63 L597.20 243.63 L597.46 243.63 L597.73 243.63 L597.99 243.63 L598.25 243.63 L598.51 243.63 L598.77 243.63 L599.03 243.63 L599.29 243.63 L599.55 243.63 L599.81 243.63 L600.07 243.63 L600.33 243.63 L600.59 243.63 L600.85 243.63 L601.11 243.63 L601.37 243.63 L601.63 243.63 L601.90 243.63 L602.16 243.63 L602.42 243.63 L602.68 243.63 L602.94 243.63 L603.20 243.63 L603.46 243.63 L603.72 243.63 L603.98 243.63 L846.60 243.63" stroke="#0a32ff" stroke-width="2.1" stroke-dasharray="14.8 3.6"/>
<path d="M586.65 243.63 L846.60 243.63" stroke="#0a32ff" stroke-width="3.0" stroke-dasharray="14.8 3.6" stroke-dashoffset="13.05"/>
</g>
<rect x="500.00" y="17.30" width="346.60" height="264.00" fill="none" stroke="#1a1a1a" stroke-width="1.1"/>
<text transform="translate(497.56 301.10) scale(0.955 1)" font-size="16.10">0</text>
<text transform="translate(536.88 301.10) scale(0.955 1)" font-size="16.10">50</text>
<text transform="translate(576.14 301.10) scale(0.955 1)" font-size="16.10">100</text>
<text transform="translate(619.46 301.10) scale(0.955 1)" font-size="16.10">150</text>
<text transform="translate(663.12 301.10) scale(0.955 1)" font-size="16.10">200</text>
<text transform="translate(706.45 301.10) scale(0.955 1)" font-size="16.10">250</text>
<text transform="translate(749.74 301.10) scale(0.955 1)" font-size="16.10">300</text>
<text transform="translate(793.07 301.10) scale(0.955 1)" font-size="16.10">350</text>
<text transform="translate(836.61 301.10) scale(0.955 1)" font-size="16.10">400</text>
<text transform="translate(488.90 285.40) scale(0.955 1)" font-size="16.10" text-anchor="end">-0.05</text>
<text transform="translate(488.90 247.69) scale(0.955 1)" font-size="16.10" text-anchor="end">0</text>
<text transform="translate(488.90 209.97) scale(0.955 1)" font-size="16.10" text-anchor="end">0.05</text>
<text transform="translate(488.90 172.26) scale(0.955 1)" font-size="16.10" text-anchor="end">0.1</text>
<text transform="translate(488.90 134.54) scale(0.955 1)" font-size="16.10" text-anchor="end">0.15</text>
<text transform="translate(488.90 96.83) scale(0.955 1)" font-size="16.10" text-anchor="end">0.2</text>
<text transform="translate(488.90 59.11) scale(0.955 1)" font-size="16.10" text-anchor="end">0.25</text>
<text transform="translate(488.90 21.40) scale(0.955 1)" font-size="16.10" text-anchor="end">0.3</text>
<text transform="translate(669.61 326.60) scale(1.178 1)" font-size="22.20" class="it">l</text>
<text transform="translate(790.18 174.40) scale(1.084 1)" font-size="21.40">(b)</text>
<g transform="translate(449.4 170.8) rotate(-90)">
<text transform="translate(0.28 0.00) scale(1.014 1)" font-size="23.70" class="it">M</text>
<text transform="translate(8.49 -14.71) scale(1.000 1)" font-size="14.67">~</text>
<text transform="translate(20.93 5.10) scale(1.300 1)" font-size="15.30" class="it">l</text>
<text transform="translate(24.60 -10.80) scale(1.222 1)" font-size="13.50" class="it">x</text>
<text transform="translate(45.28 0.00) scale(1.014 1)" font-size="23.70" class="it">M</text>
<text transform="translate(53.49 -14.71) scale(1.000 1)" font-size="14.67">~</text>
<text transform="translate(65.93 5.10) scale(1.300 1)" font-size="15.30" class="it">l</text>
<text transform="translate(69.23 -10.80) scale(1.095 1)" font-size="13.50" class="it">y</text>
<text transform="translate(32.93 0.00) scale(1.190 1)" font-size="23.70">,</text>
</g>
<line x1="787.2" y1="36.55" x2="828.0" y2="36.55" stroke="#000" stroke-width="3.4"/>
<line x1="787.2" y1="58.10" x2="828.0" y2="58.10" stroke="#ff2a00" stroke-width="2.0"/>
<line x1="787.2" y1="76.90" x2="828.0" y2="76.90" stroke="#ff2a00" stroke-width="2.0" stroke-dasharray="14.8 3.6"/>
<line x1="787.2" y1="95.40" x2="828.0" y2="95.40" stroke="#0a32ff" stroke-width="2.0"/>
<line x1="787.2" y1="114.20" x2="828.0" y2="114.20" stroke="#0a32ff" stroke-width="2.0" stroke-dasharray="14.8 3.6"/>
<text transform="translate(656.63 41.78) scale(0.624 1)" font-size="18.70">[</text>
<text transform="translate(660.24 40.60) scale(1.063 1)" font-size="17.00">|</text>
<text transform="translate(665.21 40.70) scale(1.089 1)" font-size="16.50" class="it">M</text>
<text transform="translate(671.02 30.63) scale(1.000 1)" font-size="9.92">~</text>
<text transform="translate(681.47 34.20) scale(1.300 1)" font-size="10.80" class="it">x</text>
<text transform="translate(679.23 44.60) scale(1.300 1)" font-size="10.80" class="it">l</text>
<text transform="translate(689.14 40.60) scale(1.063 1)" font-size="17.00">|</text>
<text transform="translate(692.91 34.70) scale(1.300 1)" font-size="9.40">2</text>
<text transform="translate(702.91 44.00) scale(1.020 1)" font-size="21.50">+</text>
<text transform="translate(719.14 40.60) scale(1.063 1)" font-size="17.00">|</text>
<text transform="translate(723.91 40.70) scale(1.089 1)" font-size="16.50" class="it">M</text>
<text transform="translate(729.72 30.63) scale(1.000 1)" font-size="9.92">~</text>
<text transform="translate(740.89 34.20) scale(0.982 1)" font-size="10.80" class="it">y</text>
<text transform="translate(737.93 44.60) scale(1.300 1)" font-size="10.80" class="it">l</text>
<text transform="translate(747.24 40.60) scale(1.063 1)" font-size="17.00">|</text>
<text transform="translate(750.96 34.70) scale(1.300 1)" font-size="9.40">2</text>
<text transform="translate(757.88 41.78) scale(0.624 1)" font-size="18.70">]</text>
<text transform="translate(761.83 34.95) scale(1.186 1)" font-size="10.30">1</text>
<text transform="translate(769.41 34.95) scale(1.300 1)" font-size="11.00">/</text>
<text transform="translate(774.84 34.95) scale(1.235 1)" font-size="10.30">2</text>
<text transform="translate(738.31 62.80) scale(1.043 1)" font-size="16.20">Re</text>
<text transform="translate(757.61 62.80) scale(1.089 1)" font-size="16.50" class="it">M</text>
<text transform="translate(763.42 52.73) scale(1.000 1)" font-size="9.92">~</text>
<text transform="translate(773.85 56.30) scale(1.156 1)" font-size="10.80" class="it">x</text>
<text transform="translate(771.63 66.70) scale(1.300 1)" font-size="10.80" class="it">l</text>
<text transform="translate(738.18 81.60) scale(1.061 1)" font-size="16.20">Im</text>
<text transform="translate(757.61 81.60) scale(1.089 1)" font-size="16.50" class="it">M</text>
<text transform="translate(763.42 71.53) scale(1.000 1)" font-size="9.92">~</text>
<text transform="translate(773.85 75.10) scale(1.156 1)" font-size="10.80" class="it">x</text>
<text transform="translate(771.63 85.50) scale(1.300 1)" font-size="10.80" class="it">l</text>
<text transform="translate(738.31 100.10) scale(1.043 1)" font-size="16.20">Re</text>
<text transform="translate(757.61 100.10) scale(1.089 1)" font-size="16.50" class="it">M</text>
<text transform="translate(763.42 90.03) scale(1.000 1)" font-size="9.92">~</text>
<text transform="translate(774.59 93.60) scale(0.982 1)" font-size="10.80" class="it">y</text>
<text transform="translate(771.63 104.00) scale(1.300 1)" font-size="10.80" class="it">l</text>
<text transform="translate(738.18 118.90) scale(1.061 1)" font-size="16.20">Im</text>
<text transform="translate(757.61 118.90) scale(1.089 1)" font-size="16.50" class="it">M</text>
<text transform="translate(763.42 108.83) scale(1.000 1)" font-size="9.92">~</text>
<text transform="translate(774.59 112.40) scale(0.982 1)" font-size="10.80" class="it">y</text>
<text transform="translate(771.63 122.80) scale(1.300 1)" font-size="10.80" class="it">l</text>
</svg></body></html>
